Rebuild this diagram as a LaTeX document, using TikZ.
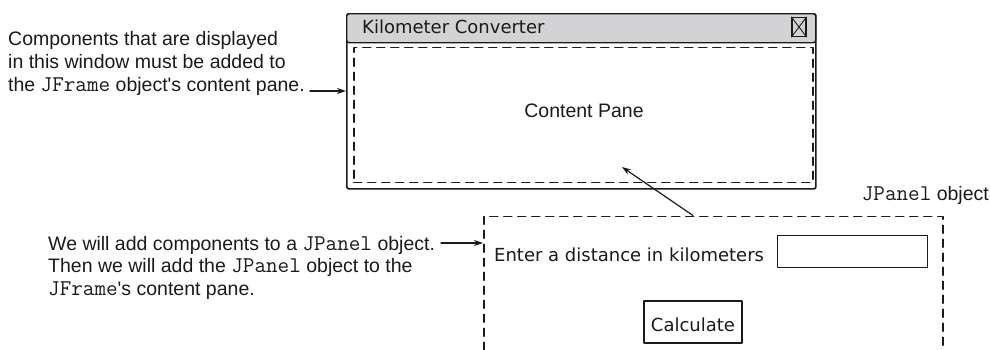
\documentclass[tikz,border=0pt]{standalone}
\usepackage{fontspec}
\setmainfont{Liberation Sans}
\newfontfamily\sketchfont{DejaVu Sans}
\usepackage{xcolor}
\usetikzlibrary{arrows.meta,positioning}
\definecolor{ink}{HTML}{1A1A1A}
\definecolor{barfill}{HTML}{D3D3D5}
\newcommand{\cls}[1]{{\ttfamily\fontsize{22.5}{22.7}\selectfont #1}}
\tikzset{
    every picture/.style={line cap=round,line join=round},
    note/.style={inner sep=0pt,font=\fontsize{19.5}{22.7}\selectfont,text=ink,align=left},
    sketchtext/.style={inner sep=0pt,font=\sketchfont\fontsize{18}{21}\selectfont,text=ink},
    winframe/.style={draw=ink,line width=1.7pt,rounded corners=2pt,inner sep=0pt},
    titlebar/.style={draw=ink,fill=barfill,line width=1.4pt,rounded corners=2.5pt,inner sep=0pt},
    panebox/.style={draw=ink,line width=1.5pt,dash pattern=on 8pt off 6pt,inner sep=0pt},
    fieldbox/.style={draw=ink,line width=1.2pt,inner sep=0pt},
    flowarrow/.style={-{Stealth[length=9pt,width=6pt]},draw=ink,line width=1.2pt}
}
\begin{document}
\begin{tikzpicture}[x=1pt,y=-1pt]
  \useasboundingbox (0,0) rectangle (990,349);
  \clip (0,0) rectangle (990,349);
  % the window
  \node[winframe,anchor=north west,minimum width=469pt,minimum height=175pt] (win) at (346,13) {};
  \node[titlebar,anchor=north west,minimum width=469pt,minimum height=29pt] (bar) at (win.north west) {};
  \node[sketchtext,anchor=base west] (title) at (362,33) {Kilometer Converter};
  \node[fieldbox,minimum width=14pt,minimum height=19pt] (close) at (799,27) {};
  \draw[ink,line width=0.9pt] (close.north west) -- (close.south east) (close.north east) -- (close.south west);
  \node[panebox,anchor=north west,minimum width=459pt,minimum height=135pt] (pane) at (353,46.5) {};
  \node[note] (panetext) at (584,111) {Content Pane};
  \coordinate (paneptr) at (622,167);
  % the panel
  \node[panebox,anchor=north west,minimum width=459pt,minimum height=160pt] (panel) at (483,215.5) {};
  \node[note,anchor=base east] (paneltag) at (989,200) {\cls{JPanel} object};
  \node[sketchtext,anchor=base west] (prompt) at (494,261) {Enter a distance in kilometers};
  \node[fieldbox,anchor=north west,minimum width=150pt,minimum height=32pt] (field) at (777,235) {};
  \node[fieldbox,minimum width=98pt,minimum height=42pt] (calc) at (693,322) {};
  \node[sketchtext,anchor=base] (calctext) at (693,331) {Calculate};
  \coordinate (panelptr) at (693,215.5);
  % the notes
  \node[note,anchor=north west] (framenote) at (8,31.5)
    {Components that are displayed\\in this window must be added to\\the \cls{JFrame} object\textquotesingle s content pane.};
  \node[note,anchor=north west] (panelnote) at (48,235.8)
    {We will add components to a \cls{JPanel} object.\\Then we will add the \cls{JPanel} object to the\\\cls{JFrame}\textquotesingle s content pane.};
  \coordinate (framearr) at (310,91);
  \coordinate (panelarr) at (441,243);
  \draw[flowarrow] (framearr) -- (win.west |- framearr);
  \draw[flowarrow] (panelarr) -- (panel.west |- panelarr);
  \draw[flowarrow] (panelptr) -- (paneptr);
\end{tikzpicture}
\end{document}
